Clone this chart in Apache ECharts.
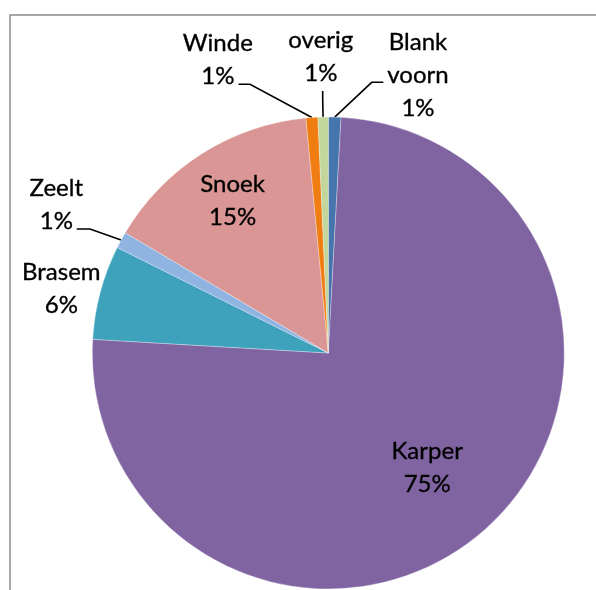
<!DOCTYPE html>
<html>
<head>
<meta charset="utf-8">
<script src="https://cdn.jsdelivr.net/npm/echarts@6/dist/echarts.min.js"></script>
<style>
  html, body { margin: 0; padding: 0; background: #ffffff; }
  #chart { width: 596px; height: 590px; }
</style>
</head>
<body>
<div id="chart"></div>
<script>
// Catch composition by species (share of total, %)
const categories = ['Blank voorn', 'Karper', 'Brasem', 'Zeelt', 'Snoek', 'Winde', 'overig'];
const shares = [0.86, 74.97, 6.45, 1.13, 14.96, 0.81, 0.70];

// Slice colours, same order as categories
const sliceColors = ['#4674ac', '#8064a2', '#3fa2bd', '#8fb4e2', '#d99694', '#f07d12', '#c3d69b'];

// Centre of each label block
const labelCenters = [
  [418, 75.5], [427.2, 467.8], [61.3, 289], [56.3, 205],
  [232.6, 201], [217.8, 59.5], [320.8, 56.5]
];
// Leader line: bend point and end point next to the text (null = no leader line)
const leaderEnds = [
  [[371.7, 82.3], [383.3, 82.3]], null, null, [[90, 229], [76.7, 229]],
  null, [[250, 84.3], [238.5, 84.3]], [[322.7, 100], [322.7, 91]]
];

const chart = echarts.init(document.getElementById('chart'), null, { renderer: 'canvas' });

chart.setOption({
  animation: false,
  backgroundColor: '#ffffff',
  graphic: [{
    type: 'rect',
    silent: true,
    shape: { x: 10, y: 15, width: 700, height: 700 },
    style: { fill: 'none', stroke: '#8a8a8a', lineWidth: 1.5 }
  }],
  series: [{
    type: 'pie',
    center: [328.3, 353],
    radius: 236,
    startAngle: 90,
    clockwise: true,
    avoidLabelOverlap: false,
    percentPrecision: 0,
    emphasis: { disabled: true },
    itemStyle: { borderColor: 'rgba(255,255,255,0.6)', borderWidth: 0.5 },
    data: categories.map((name, i) => ({
      name: name,
      value: shares[i],
      itemStyle: { color: sliceColors[i] },
      labelLine: { show: leaderEnds[i] != null }
    })),
    label: {
      show: true,
      position: 'outside',
      formatter: p => p.name.split(' ').join('\n') + '\n' + p.percent + '%',
      color: '#000000',
      fontFamily: 'Lato',
      fontSize: 24,
      lineHeight: 33,
      textBorderColor: '#000000',
      textBorderWidth: 0.35
    },
    labelLine: {
      show: true,
      length: 10,
      length2: 10,
      lineStyle: { color: '#000000', width: 1.6 }
    },
    labelLayout: function (params) {
      const i = params.dataIndex;
      const c = labelCenters[i];
      const out = { x: c[0], y: c[1], align: 'center', verticalAlign: 'middle' };
      const ends = leaderEnds[i];
      if (ends && params.labelLinePoints) {
        out.labelLinePoints = [params.labelLinePoints[0], ends[0], ends[1]];
      }
      return out;
    }
  }]
});
</script>
</body>
</html>
